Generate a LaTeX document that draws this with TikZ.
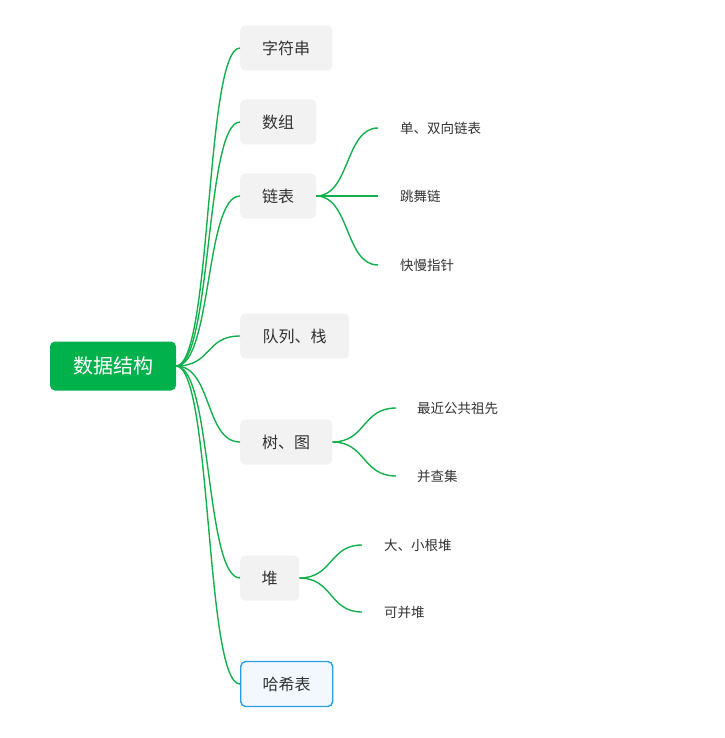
\documentclass[tikz,border=0pt]{standalone}
\usepackage{fontspec}
\setmainfont{Noto Sans CJK SC}
\begin{document}
\begin{tikzpicture}[x=1pt,y=-1pt,
  root/.style={fill=rootg,rounded corners=5pt,text=white,font=\fontsize{20}{24}\selectfont,minimum width=126pt,minimum height=49pt,inner sep=0pt},
  lone/.style={fill=boxg,rounded corners=5pt,text=txt,font=\fontsize{16}{19}\selectfont,minimum height=45pt,inner sep=0pt,anchor=west},
  ltwo/.style={text=txt,font=\fontsize{13.5}{16}\selectfont,inner sep=0pt,anchor=west},
  link/.style={draw=lineg,line width=1.4pt}]
\definecolor{rootg}{HTML}{00B14C}
\definecolor{lineg}{HTML}{14B04E}
\definecolor{boxg}{HTML}{F2F2F2}
\definecolor{txt}{HTML}{333333}
\definecolor{hb}{HTML}{2A9DE8}
\definecolor{hf}{HTML}{F2F8FD}
\useasboundingbox (0,0) rectangle (724,738);
\node[root] (r) at (113,366) {数据结构};
\node[lone,minimum width=92pt] (a) at (240,48) {字符串};
\node[lone,minimum width=76pt] (b) at (240,122) {数组};
\node[lone,minimum width=76pt] (c) at (240,196) {链表};
\node[lone,minimum width=109pt] (d) at (240,336) {队列、栈};
\node[lone,minimum width=92pt] (e) at (240,442) {树、图};
\node[lone,minimum width=59pt] (f) at (240,578) {堆};
\node[lone,minimum width=92pt,fill=hf,draw=hb,line width=1.4pt] (g) at (240,684) {哈希表};
\coordinate (rs) at (176,366);
\foreach \n in {a,b,c,d,e,f,g}{
  \draw[link] (rs) .. controls (212,366) and (205,0|-\n.west) .. (\n.west);
}
\node[ltwo] (c1) at (400,128) {单、双向链表};
\node[ltwo] (c2) at (400,196) {跳舞链};
\node[ltwo] (c3) at (400,265) {快慢指针};
\foreach \n in {c1,c2,c3}{
  \draw[link] (c.east) .. controls (350,196) and (345,0|-\n.west) .. ([xshift=-22pt]\n.west);
}
\node[ltwo] (e1) at (417,408) {最近公共祖先};
\node[ltwo] (e2) at (417,476) {并查集};
\foreach \n in {e1,e2}{
  \draw[link] (e.east) .. controls (366,442) and (362,0|-\n.west) .. ([xshift=-21pt]\n.west);
}
\node[ltwo] (f1) at (384,545) {大、小根堆};
\node[ltwo] (f2) at (384,612) {可并堆};
\foreach \n in {f1,f2}{
  \draw[link] (f.east) .. controls (333,578) and (329,0|-\n.west) .. ([xshift=-22pt]\n.west);
}
\end{tikzpicture}
\end{document}
